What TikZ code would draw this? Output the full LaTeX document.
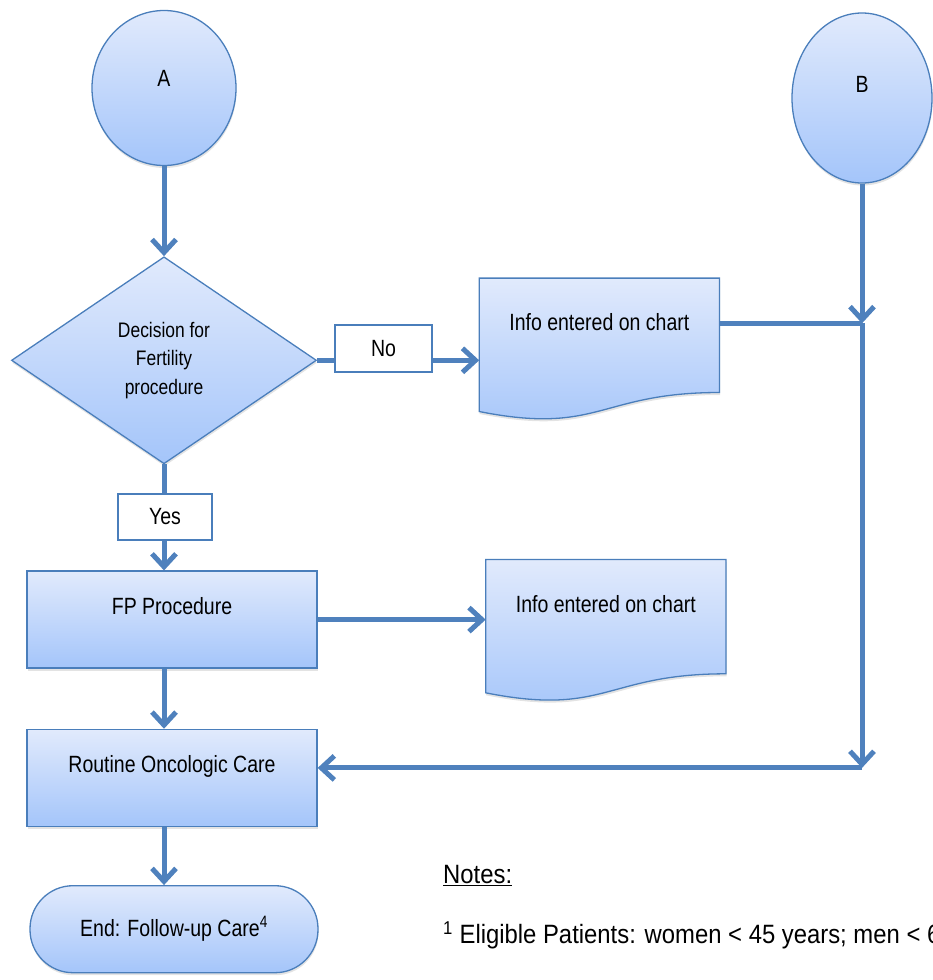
\documentclass[tikz,border=0pt]{standalone}
\usepackage{fontspec}
\setmainfont{Liberation Sans}
\newfontfamily\chartsf[FakeStretch=0.83]{Liberation Sans}
\newfontfamily\notesf[FakeStretch=0.9]{Liberation Sans}
\usetikzlibrary{positioning,arrows.meta,shapes.geometric,shadows,calc,backgrounds}
\definecolor{edgeblue}{RGB}{79,129,189}
\definecolor{rimblue}{RGB}{74,126,187}
\definecolor{fillhi}{RGB}{225,234,252}
\definecolor{filllo}{RGB}{164,197,250}

\begin{document}
\begin{tikzpicture}[x=1pt,y=-1pt,
  conn/.style={draw=edgeblue,line width=5pt},
  arr/.style={-{Straight Barb[length=13pt,width=24pt]}},
  shade node/.style={draw=rimblue,line width=1.3pt,top color=fillhi,bottom color=filllo,
    text=black,font=\chartsf\fontsize{23.5}{28}\selectfont,
    drop shadow={shadow xshift=0.5pt,shadow yshift=-2.5pt,opacity=.22}},
  start node/.style={shade node,ellipse,minimum width=144pt,inner sep=0pt},
  proc node/.style={shade node,rectangle,minimum width=290pt,minimum height=97pt,text depth=27pt},
  doc node/.style={rectangle,minimum width=240pt,minimum height=114pt,text depth=26pt,
    font=\chartsf\fontsize{23.5}{28}\selectfont},
  label node/.style={draw=rimblue,line width=1.3pt,fill=white,rectangle,
    font=\chartsf\fontsize{23.5}{28}\selectfont},
  note/.style={anchor=west,inner sep=0pt,font=\notesf\fontsize{26.5}{30}\selectfont}]

  \useasboundingbox (0,0) rectangle (932,980);

  \node[start node,minimum height=155pt,text depth=19pt] (A) at (164,88) {A};
  \node[start node,minimum width=140pt,minimum height=170pt,text depth=28pt] (B) at (862,98) {B};

  \node[shade node,diamond,minimum width=305pt,minimum height=207pt,inner sep=0pt,
    align=center,font=\chartsf\fontsize{21}{28.5}\selectfont]
    (dec) [below=90pt of A] {Decision for\\Fertility\\procedure};
  \node[proc node] (fp) [below=106pt of dec,xshift=8pt] {FP Procedure};
  \node[proc node] (routine) [below=60pt of fp] {Routine Oncologic Care};
  \node[shade node,rectangle,rounded corners=43pt,minimum width=288pt,minimum height=87pt]
    (finish) [below=58pt of routine,xshift=2pt] {End: Follow-up Care\textsuperscript{4}};

  \node[doc node] (doc1) [right=162pt of dec,yshift=25pt] {Info entered on chart};
  \node[doc node] (doc2) [right=168pt of fp,yshift=3pt] {Info entered on chart};

  % wavy document outlines
  \begin{scope}[on background layer]
    \foreach \d in {doc1,doc2}
      \path[draw=rimblue,line width=1.3pt,top color=fillhi,bottom color=filllo,
        drop shadow={shadow xshift=0.5pt,shadow yshift=-2.5pt,opacity=.22}]
        (\d.north west) -- (\d.north east) -- (\d.south east)
        .. controls (\d.south) and ($(\d.south)+(0,43)$) .. ($(\d.south west)+(0,19)$)
        -- cycle;
  \end{scope}

  \coordinate (j1) at ([yshift=12pt]doc1.east -| B.south);
  \coordinate (j2) at ([yshift=10pt]routine.east -| B.south);

  \draw[conn,arr] (A) -- (dec);
  \draw[conn,arr] (dec.east) -- (dec.east -| doc1.west);
  \draw[conn,arr] (dec.south) -- (dec.south |- fp.north);
  \draw[conn,arr] (fp.east) -- (fp.east -| doc2.west);
  \draw[conn,arr] (fp.south -| dec.south) -- (dec.south |- routine.north);
  \draw[conn,arr] (routine.south -| dec.south) -- (dec.south |- finish.north);
  \draw[conn,arr] (B) -- (j1);
  \draw[conn] ([yshift=12pt]doc1.east) -- (j1);
  \draw[conn,arr] (j1) -- (j2);
  \draw[conn,arr] (j2) -- (j2 -| routine.east);

  \node[label node,minimum width=97pt,minimum height=47pt] (no) at (383.5,348.5) {No};
  \node[label node,minimum width=94pt,minimum height=46pt] (yes) at (165,517) {Yes};

  \node[note] (notes) at (443,876) {\underline{Notes:}};
  \node[note] (fn1) at (443,935)
    {\textsuperscript{1} Eligible Patients: women < 45 years; men < 6};
\end{tikzpicture}
\end{document}
